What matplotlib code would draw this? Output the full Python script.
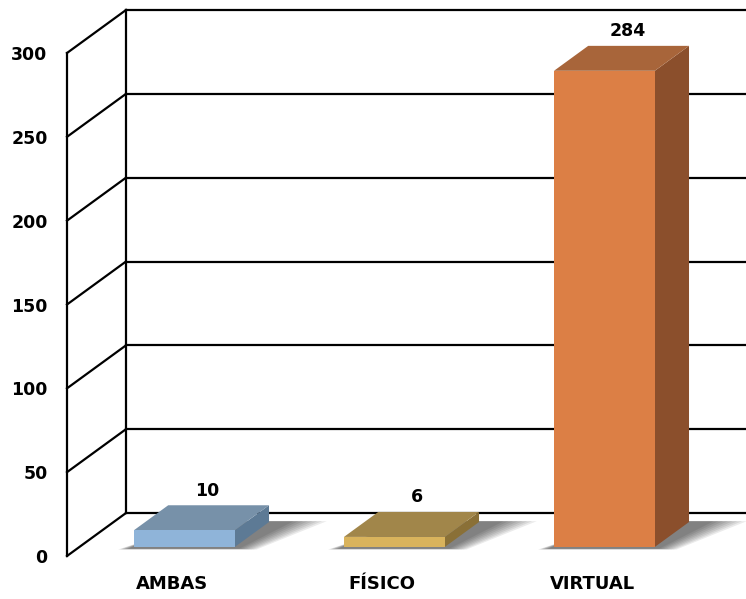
import matplotlib.pyplot as plt
from matplotlib.patches import Polygon
import numpy as np

# data
categories = ['AMBAS', 'FÍSICO', 'VIRTUAL']
values = [10, 6, 284]
yticks = [0, 50, 100, 150, 200, 250, 300]

front_cols = ['#8fb4d9', '#d9b35c', '#dc7f45']
top_cols = ['#7791a9', '#a1864a', '#a8653a']
side_cols = ['#5d7a95', '#8a7037', '#8b4f2c']

W, H, DPI = 746, 599, 100
fig = plt.figure(figsize=(W / DPI, H / DPI), dpi=DPI)

# front plane of the floor/wall box, in pixels
x0_px, x1_px = 67, 697
y0_px, y1_px = 556, 53
ax = fig.add_axes([x0_px / W, (H - y0_px) / H,
                   (x1_px - x0_px) / W, (y0_px - y1_px) / H])
ax.set_xlim(0, len(categories))
ax.set_ylim(0, 300)

# depth offset (59 px right, 43 px up) converted to data units
kx = 59 / ((x1_px - x0_px) / len(categories))
ky = 43 / ((y0_px - y1_px) / 300)


def proj(x, y, d):
    return (x + d * kx, y + d * ky)


lw = 1.6
# back wall grid lines and side wall diagonals
for v in yticks:
    a = proj(0, v, 1)
    b = proj(len(categories) + 0.5, v, 1)
    ax.plot([a[0], b[0]], [a[1], b[1]], color='black', lw=lw, clip_on=False, zorder=1)
    c = proj(0, v, 0)
    ax.plot([c[0], a[0]], [c[1], a[1]], color='black', lw=lw, clip_on=False, zorder=1)
a = proj(0, 0, 1)
b = proj(0, 300, 1)
ax.plot([a[0], b[0]], [a[1], b[1]], color='black', lw=lw, clip_on=False, zorder=1)

# 3d bars
bw = 0.48
d_front, d_back = 0.21, 0.79
for i, v in enumerate(values):
    cx = i + 0.5
    xl, xr = cx - bw / 2, cx + bw / 2
    # soft shadow on the floor, stacked layers get darker near the bar
    for k in range(8):
        g = 0.025 * (8 - k)
        sh = [proj(xl - 0.01 - g * 0.25, 0, d_front - 0.04 - g * 0.1),
              proj(xr + 0.02 + g * 0.5, 0, d_front - 0.04 - g * 0.1),
              proj(xr + 0.09 + g * 0.9, 0, d_back + 0.02),
              proj(xl + 0.09 + g * 0.4, 0, d_back + 0.02)]
        ax.add_patch(Polygon(sh, closed=True, facecolor='black', alpha=0.08,
                             edgecolor='none', clip_on=False, zorder=2))
    front = [proj(xl, 0, d_front), proj(xr, 0, d_front),
             proj(xr, v, d_front), proj(xl, v, d_front)]
    top = [proj(xl, v, d_front), proj(xr, v, d_front),
           proj(xr, v, d_back), proj(xl, v, d_back)]
    side = [proj(xr, 0, d_front), proj(xr, 0, d_back),
            proj(xr, v, d_back), proj(xr, v, d_front)]
    ax.add_patch(Polygon(side, closed=True, facecolor=side_cols[i],
                         edgecolor='none', clip_on=False, zorder=3))
    ax.add_patch(Polygon(top, closed=True, facecolor=top_cols[i],
                         edgecolor='none', clip_on=False, zorder=3))
    ax.add_patch(Polygon(front, closed=True, facecolor=front_cols[i],
                         edgecolor='none', clip_on=False, zorder=4))
    lx, ly = proj(cx, v, 0.6)
    ax.annotate(str(v), (lx, ly), xytext=(0, 10), textcoords='offset points',
                ha='center', va='bottom', fontsize=12.5, fontweight='bold',
                annotation_clip=False, zorder=5)

for s in ['top', 'right', 'bottom']:
    ax.spines[s].set_visible(False)
ax.spines['left'].set_linewidth(lw)
ax.spines['left'].set_zorder(1)
ax.patch.set_visible(False)

ax.set_yticks(yticks)
ax.set_yticklabels([str(t) for t in yticks], fontsize=12.5, fontweight='bold')
ax.set_xticks(np.arange(len(categories)) + 0.5)
ax.set_xticklabels(categories, fontsize=13, fontweight='bold')
ax.tick_params(axis='y', length=0, pad=14)
ax.tick_params(axis='x', length=0, pad=14)

fig.savefig('out.png', dpi=DPI)
